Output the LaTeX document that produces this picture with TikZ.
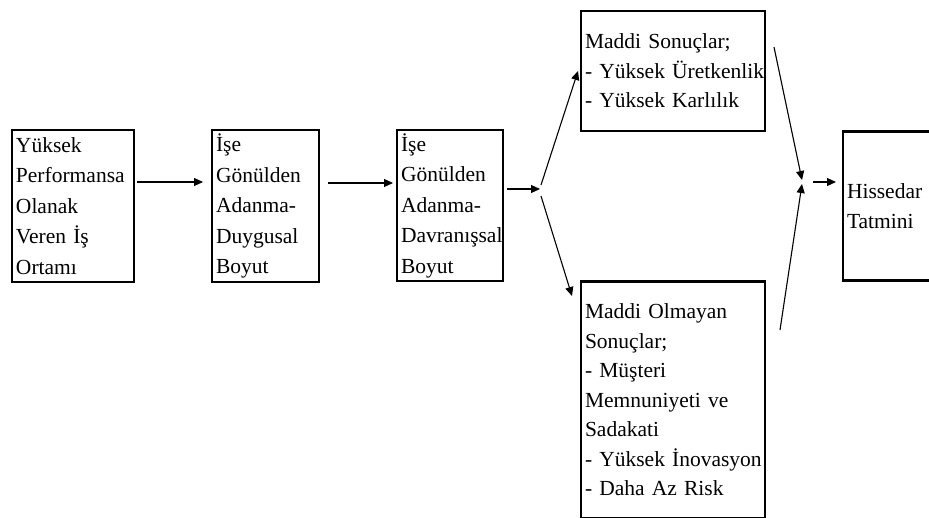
\documentclass[tikz,border=0pt]{standalone}
\usepackage{fontspec}
\setmainfont{Liberation Serif}
\usetikzlibrary{arrows.meta}
\begin{document}
\begin{tikzpicture}[x=1pt,y=1pt,
  box/.style={draw, line width=2.3pt, rectangle, align=left, inner xsep=3pt, inner ysep=0pt,
    font=\fontsize{21.5}{29.5}\selectfont},
  wide/.style={font=\fontsize{21.5}{30.5}\selectfont},
  arr/.style={line width=1.1pt, -{Triangle[length=9pt,width=8pt]}}]
\useasboundingbox (0,0) rectangle (929,-517);
\node[box, wide, minimum width=122pt, minimum height=152pt, text width=114pt] (b1) at (73,-206)
  {Yüksek\\Performansa\\Olanak\\\mbox{Veren İş}\\Ortamı};
\node[box, wide, minimum width=107pt, minimum height=152pt, text width=99pt] (b2) at (265.5,-206)
  {İşe\\Gönülden\\Adanma-\\Duygusal\\Boyut};
\node[box, wide, minimum width=106pt, minimum height=151pt, text width=98pt] (b3) at (450,-205.5)
  {İşe\\Gönülden\\Adanma-\\Davranışsal\\Boyut};
\node[box, minimum width=184pt, minimum height=120pt, text width=176pt] (b4) at (673,-71)
  {\mbox{Maddi Sonuçlar;}\\\mbox{- Yüksek Üretkenlik}\\\mbox{- Yüksek Karlılık}};
\node[box, minimum width=184pt, minimum height=237pt, text width=176pt] (b5) at (673,-400)
  {\mbox{Maddi Olmayan}\\Sonuçlar;\\\mbox{- Müşteri}\\\mbox{Memnuniyeti ve}\\Sadakati\\\mbox{- Yüksek İnovasyon}\\\mbox{- Daha Az Risk}};
\node[box, minimum width=110pt, minimum height=149pt, text width=102pt] (b6) at (898,-206)
  {Hissedar\\Tatmini};
% connectors
\coordinate (a1s) at (137,-182);
\coordinate (a1e) at (203,-182);
\coordinate (a2s) at (328,-183);
\coordinate (a2e) at (393,-183);
\coordinate (a3s) at (507,-189);
\coordinate (a3e) at (540,-189);
\coordinate (u1s) at (541,-185);
\coordinate (u1e) at (578,-71);
\coordinate (d1s) at (541,-196);
\coordinate (d1e) at (572,-296);
\coordinate (u2s) at (774,-47);
\coordinate (u2e) at (802,-180);
\coordinate (d2s) at (780,-330);
\coordinate (d2e) at (802,-184);
\coordinate (fs) at (813,-182);
\coordinate (fe) at (836,-182);
\draw[arr] (a1s) -- (a1e);
\draw[arr] (a2s) -- (a2e);
\draw[arr] (a3s) -- (a3e);
\draw[arr] (u1s) -- (u1e);
\draw[arr] (d1s) -- (d1e);
\draw[arr] (u2s) -- (u2e);
\draw[arr] (d2s) -- (d2e);
\draw[arr] (fs) -- (fe);
\end{tikzpicture}
\end{document}
